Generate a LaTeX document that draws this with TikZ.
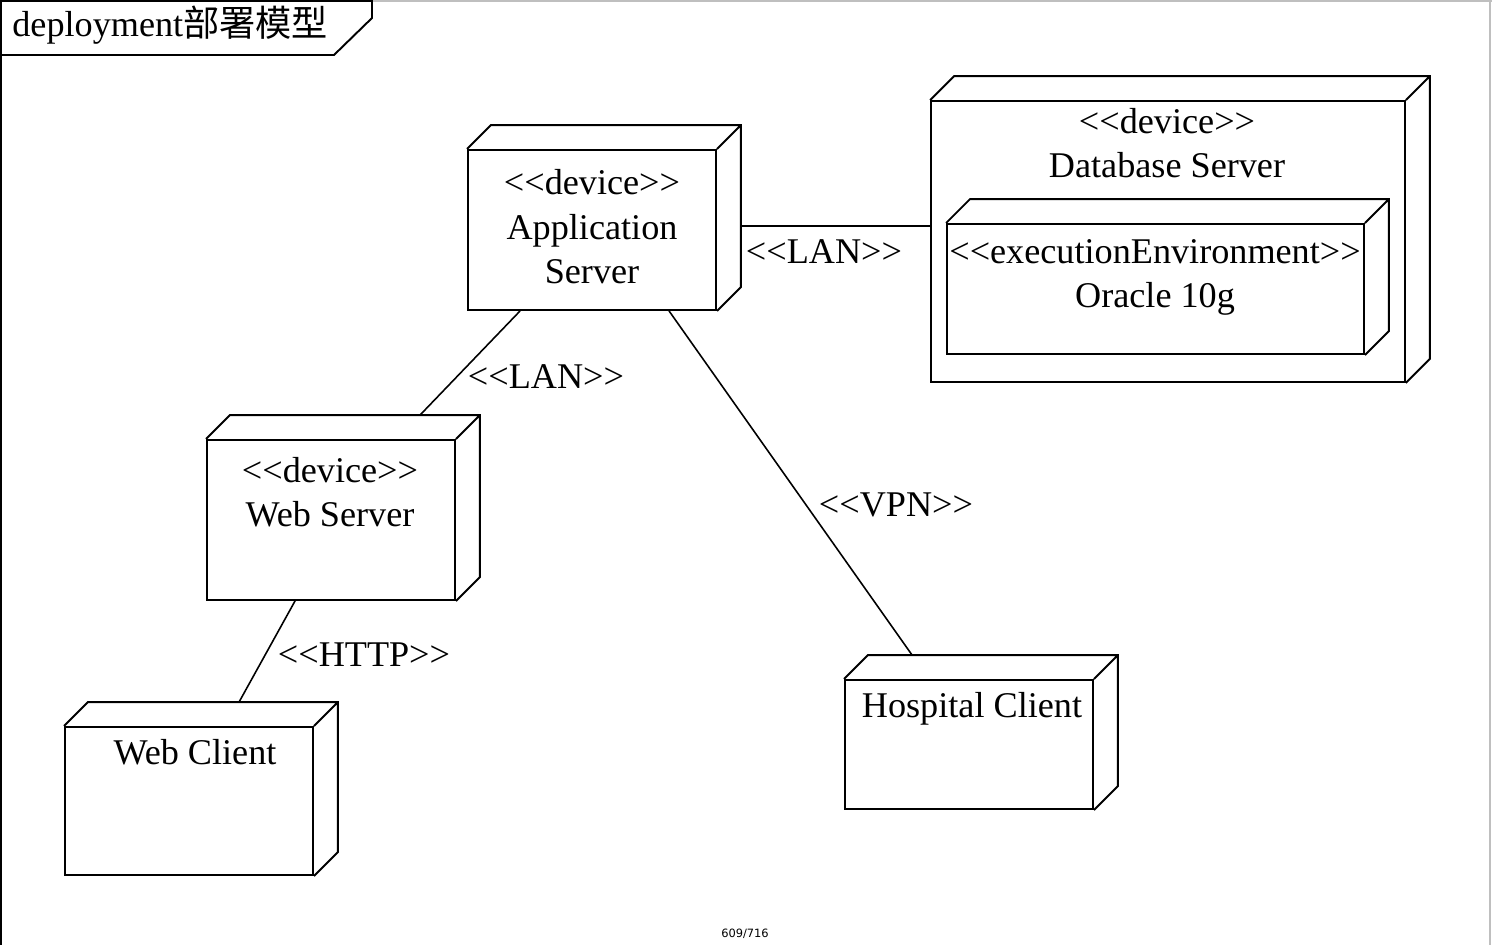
\documentclass[tikz,border=0pt]{standalone}
\usepackage{fontspec}
\usepackage{tikz}
\usetikzlibrary{calc}
\newfontfamily\umlfont{Liberation Serif}
\newfontfamily\cjkfont{Noto Sans CJK SC}
\newfontfamily\pagefont{DejaVu Sans}

\tikzset{
  nodebox/.style={draw, line width=1.1pt, inner sep=0pt},
  side/.style={line width=1.1pt},
  link/.style={line width=0.9pt},
  txt/.style={font=\umlfont\fontsize{20.6}{25.6}\selectfont, inner sep=0pt, align=center, anchor=base},
}
% 3d faces of a node box
\newcommand{\nodecube}[1]{%
  \draw[side] (#1.north west) -- ++(24,-24) -| ($(#1.south east)+(24,-24)$) -- (#1.south east)
    (#1.north east) -- ++(24,-24);}

\begin{document}
\begin{tikzpicture}[x=0.02cm,y=-0.02cm]
\useasboundingbox (0,0) rectangle (1492,945);
% frame
\draw[black!25, line width=0.6pt] (372,1)--(1492,1) (1490,0)--(1490,945);
\draw[line width=1.1pt] (1,945)--(1,1)--(372,1)--(372,18)--(334,55)--(1,55);
\node[txt, anchor=base west] (title) at (12,37) {deployment{\cjkfont 部署模型}};

% boxes
\node[nodebox, minimum width=4.96cm, minimum height=3.2cm] (app) at (592,230) {};
\node[nodebox, minimum width=9.48cm, minimum height=5.62cm] (db) at (1168,241.5) {};
\node[nodebox, minimum width=8.34cm, minimum height=2.6cm] (ora) at (1155.5,289) {};
\node[nodebox, minimum width=4.96cm, minimum height=3.2cm] (web) at (331,520) {};
\node[nodebox, minimum width=4.96cm, minimum height=2.96cm] (wcl) at (189,801) {};
\node[nodebox, minimum width=4.96cm, minimum height=2.58cm] (hos) at (969,744.5) {};
\nodecube{app}
\nodecube{db}
\nodecube{ora}
\nodecube{web}
\nodecube{wcl}
\nodecube{hos}

% texts (base = last line)
\node[txt] (app-t) at (592,284) {<<device>>\\Application\\Server};
\node[txt] (db-t) at (1167,178) {<<device>>\\Database Server};
\node[txt] (ora-t) at (1155,308) {<<executionEnvironment>>\\Oracle 10g};
\node[txt] (web-t) at (330,527) {<<device>>\\Web Server};
\node[txt] (wcl-t) at (195,765) {Web Client};
\node[txt] (hos-t) at (972,718) {Hospital Client};

% links
\draw[link] ($(app.east)+(24,-4)$) coordinate (lanA) -- (lanA -| db.west);
\draw[link] ($(app.south west)+(53,0)$) -- ($(web.north west)+(214,-24)$);
\draw[link] ($(app.south west)+(202,0)$) -- ($(hos.north west)+(68,-24)$);
\draw[link] ($(web.south west)+(89,0)$) -- ($(wcl.north west)+(175,-24)$);
\node[txt] (lan1) at (824,264) {<<LAN>>};
\node[txt] (lan2) at (546,389) {<<LAN>>};
\node[txt] (vpn) at (896,517) {<<VPN>>};
\node[txt] (http) at (364,667) {<<HTTP>>};

\node[font=\pagefont\fontsize{6.5}{8}\selectfont, inner sep=0pt, anchor=base] (page) at (745,937) {609/716};
\end{tikzpicture}
\end{document}
